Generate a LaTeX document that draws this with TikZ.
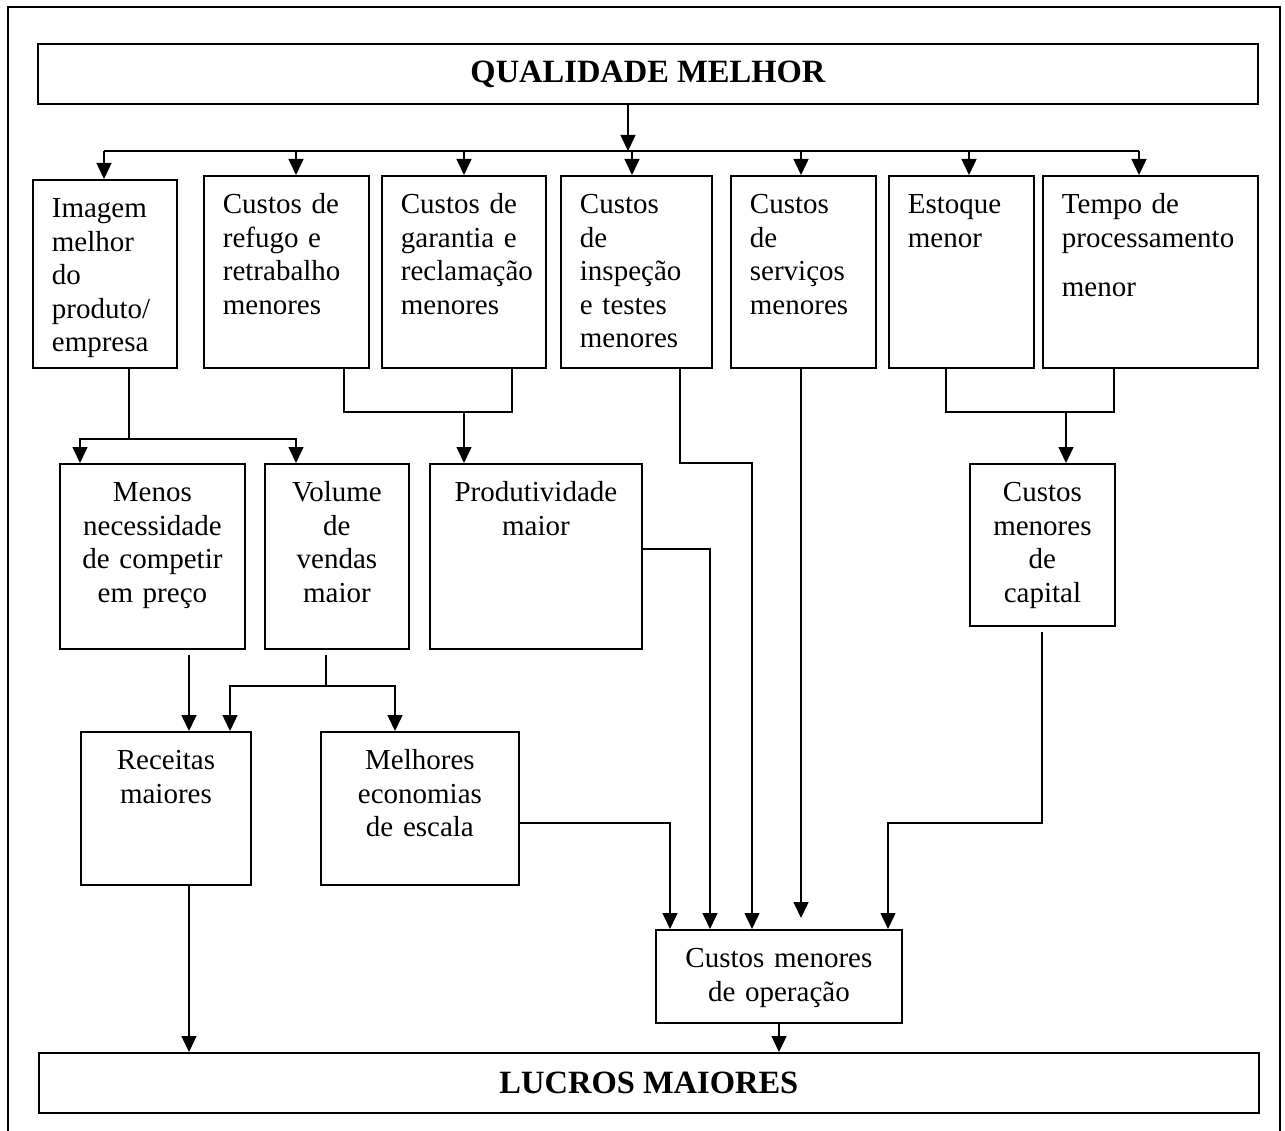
\documentclass[tikz,border=0pt]{standalone}
\usepackage{fontspec}
\setmainfont{Liberation Serif}
\usepackage{tikz}
\usetikzlibrary{arrows.meta,positioning}
\tikzset {
	caixa/.style={draw, line width=1.8pt, anchor=north west, inner ysep=0pt, text height=38pt,
					font=\fontsize{29pt}{33.5pt}\selectfont},
	esq/.style={caixa, align=left, inner xsep=19pt},
	centro/.style={caixa, align=center, inner xsep=8pt},
	titulo/.style={draw, line width=1.8pt, anchor=north west, inner sep=0pt, minimum height=60pt,
					font=\fontsize{32.5pt}{40pt}\selectfont\bfseries},
	seta/.style={line width=1.5pt, -{Triangle[length=16pt,width=15pt]}},
	linha/.style={line width=1.5pt}
}

\begin{document}
\begin{tikzpicture}[x=1pt, y=-1pt]
	\useasboundingbox (0,0) rectangle (1285,1131);
	\draw[line width=1.5pt] (8,1131) -- (8,7) -- (1280,7) -- (1280,1131);

	% caixas
	\node[titulo, minimum width=1220pt] (qualidade) at (37,43) {QUALIDADE MELHOR};
	\node[esq, text width=106pt, text depth=150pt] (imagem) at (32,179) {Imagem\\melhor\\do\\produto/\\empresa};
	\node[esq, text width=127pt, text depth=154pt] (refugo) at (203,175) {Custos de\\refugo e\\retrabalho\\menores};
	\node[esq, text width=126pt, text depth=154pt] (garantia) at (381,175) {Custos de\\garantia e\\reclamação\\menores};
	\node[esq, text width=113pt, text depth=154pt] (inspecao) at (560,175) {Custos\\de\\inspeção\\e testes\\menores};
	\node[esq, text width=107pt, text depth=154pt] (servicos) at (730,175) {Custos\\de\\serviços\\menores};
	\node[esq, text width=107pt, text depth=154pt] (estoque) at (888,175) {Estoque\\menor};
	\node[esq, text width=177pt, text depth=154pt] (tempo) at (1042,175) {Tempo de\\processamento\\[16pt]menor};
	\node[centro, text width=169pt, text depth=147pt] (menos) at (59,463) {Menos\\necessidade\\de competir\\em preço};
	\node[centro, text width=128pt, text depth=147pt] (volume) at (264,463) {Volume\\de\\vendas\\maior};
	\node[centro, text width=196pt, text depth=147pt] (produtividade) at (429,463) {Produtividade\\maior};
	\node[centro, text width=129pt, text depth=124pt] (capital) at (969,463) {Custos\\menores\\de\\capital};
	\node[centro, text width=154pt, text depth=115pt] (receitas) at (80,731) {Receitas\\maiores};
	\node[centro, text width=182pt, text depth=115pt] (economias) at (320,731) {Melhores\\economias\\de escala};
	\node[centro, text width=230pt, text depth=55pt] (operacao) at (655,929) {Custos menores\\de operação};
	\node[titulo, minimum width=1220pt] (lucros) at (38,1052) {LUCROS MAIORES};

	% barra de cima
	\coordinate (b0) at (628,151);
	\coordinate (b1) at (104,151);
	\coordinate (b7) at (1139,151);
	\draw[seta] (qualidade.south -| b0) -- (b0);
	\draw[linha] (b1) -- (b7);
	\foreach \x/\alvo in {104/imagem, 296/refugo, 464/garantia, 632/inspecao, 801/servicos, 969/estoque, 1139/tempo}
		\draw[seta] (\x,151) -- (\x,151 |- \alvo.north);

	% imagem -> menos, volume
	\coordinate (j1) at (129,439);
	\coordinate (m1) at (80,439);
	\coordinate (m2) at (296,439);
	\draw[linha] (imagem.south -| j1) -- (j1);
	\draw[seta] (j1) -| (m1 |- menos.north);
	\draw[seta] (j1) -| (m2 |- volume.north);

	% refugo, garantia -> produtividade
	\coordinate (r1) at (344,412);
	\coordinate (r2) at (512,412);
	\coordinate (r0) at (464,412);
	\draw[linha] (refugo.south -| r1) -- (r1) -- (r2) -- (garantia.south -| r2);
	\draw[seta] (r0) -- (r0 |- produtividade.north);

	% estoque, tempo -> capital
	\coordinate (e1) at (946,412);
	\coordinate (e2) at (1114,412);
	\coordinate (e0) at (1066,412);
	\draw[linha] (estoque.south -| e1) -- (e1) -- (e2) -- (tempo.south -| e2);
	\draw[seta] (e0) -- (e0 |- capital.north);

	% menos, volume -> receitas, economias
	\coordinate (a1) at (189,655);
	\coordinate (v0) at (326,686);
	\coordinate (v1) at (230,686);
	\coordinate (v2) at (395,686);
	\draw[seta] (a1) -- (a1 |- receitas.north);
	\draw[linha] (326,655) -- (v0);
	\draw[seta] (v0) -| (v1 |- receitas.north);
	\draw[seta] (v0) -| (v2 |- economias.north);

	% tudo -> custos menores de operacao
	\coordinate (c1) at (670,823);
	\coordinate (p1) at (710,549);
	\coordinate (i1) at (680,463);
	\coordinate (i2) at (752,463);
	\coordinate (s1) at (801,918);
	\coordinate (k0) at (1042,632);
	\coordinate (k1) at (1042,823);
	\coordinate (k2) at (888,823);
	\draw[seta] (economias.east |- c1) -- (c1) -- (c1 |- operacao.north);
	\draw[seta] (produtividade.east |- p1) -- (p1) -- (p1 |- operacao.north);
	\draw[seta] (inspecao.south -| i1) -- (i1) -- (i2) -- (i2 |- operacao.north);
	\draw[seta] (servicos.south -| s1) -- (s1);
	\draw[seta] (k0) -- (k1) -- (k2) -- (k2 |- operacao.north);

	% -> lucros
	\coordinate (o1) at (779,1022);
	\draw[seta] (receitas.south -| a1) -- (a1 |- lucros.north);
	\draw[seta] (operacao.south -| o1) -- (o1 |- lucros.north);
\end{tikzpicture}
\end{document}
